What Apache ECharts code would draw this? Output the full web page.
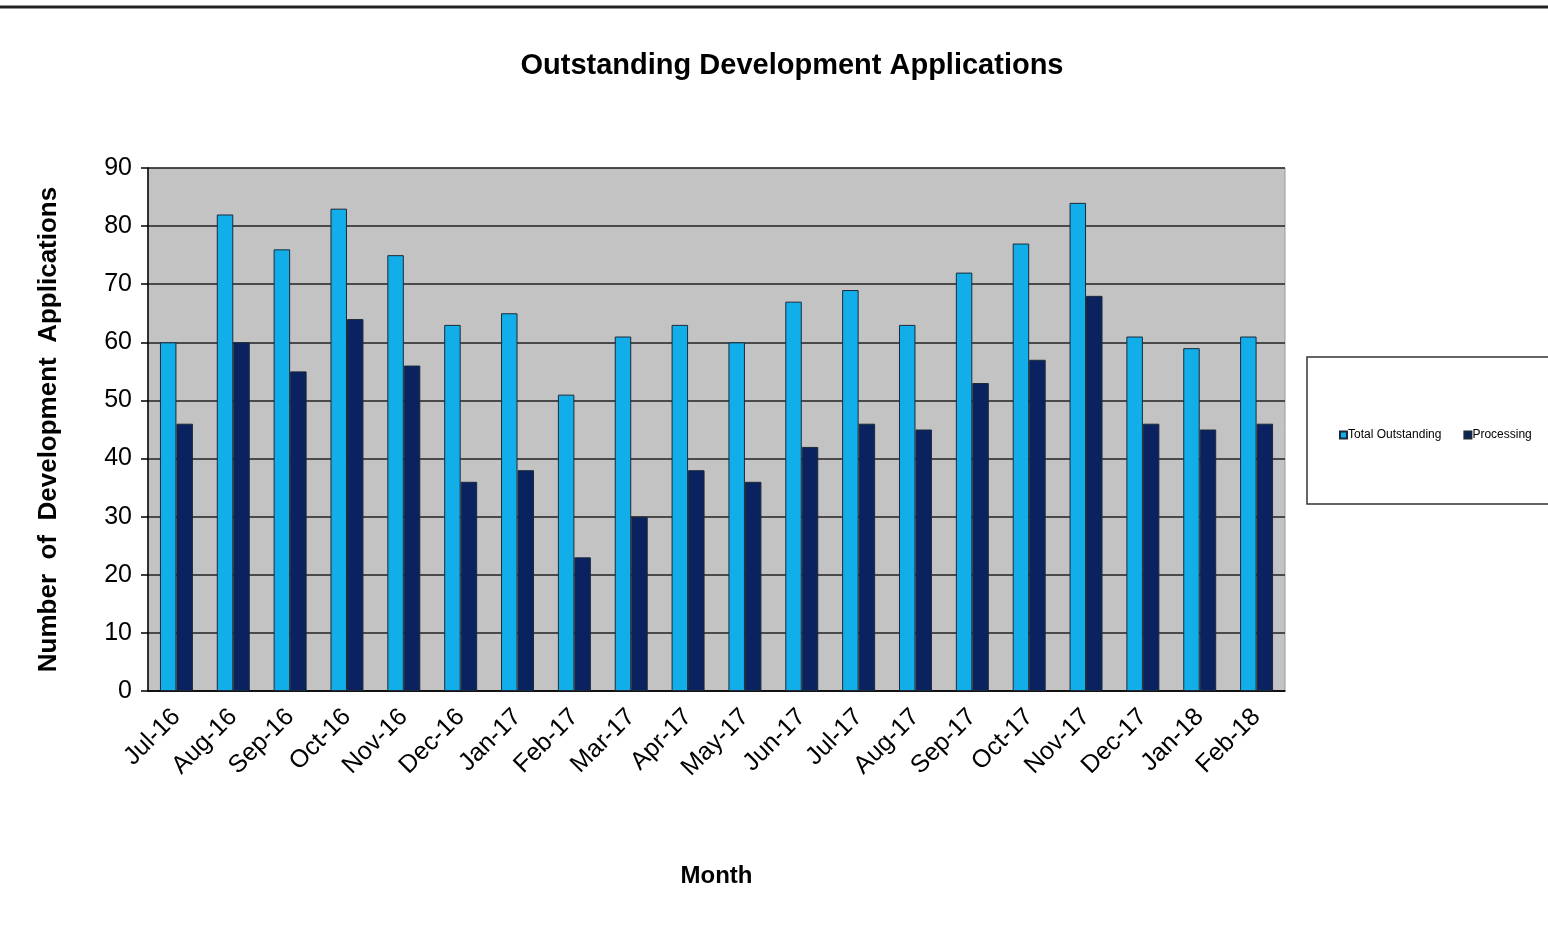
<!DOCTYPE html>
<html><head><meta charset="utf-8">
<script src="https://cdn.jsdelivr.net/npm/echarts@6/dist/echarts.min.js"></script>
<style>html,body{margin:0;padding:0;background:#fff}#c{width:1548px;height:931px}</style>
</head><body><div id="c"></div>
<script>
const months = ['Jul-16','Aug-16','Sep-16','Oct-16','Nov-16','Dec-16','Jan-17','Feb-17','Mar-17','Apr-17','May-17','Jun-17','Jul-17','Aug-17','Sep-17','Oct-17','Nov-17','Dec-17','Jan-18','Feb-18'];
const totalOutstanding = [60,82,76,83,75,63,65,51,61,63,60,67,69,63,72,77,84,61,59,61];
const processing = [46,60,55,64,56,36,38,23,30,38,36,42,46,45,53,57,68,46,45,46];
const yTicks = [0,10,20,30,40,50,60,70,80,90];

const chart = echarts.init(document.getElementById('c'));
const ff = 'Liberation Sans, Arial, sans-serif';
chart.setOption({
  animation:false,
  backgroundColor:'#fff',
  title:{text:'Outstanding Development Applications',left:787,textAlign:'center',top:46,
    textStyle:{fontFamily:ff,fontWeight:'bold',fontSize:29,color:'#000'}},
  graphic:[
    {type:'line',shape:{x1:0,y1:7,x2:1548,y2:7},style:{stroke:'#222',lineWidth:3}},
    {type:'rect',shape:{x:1307,y:357,width:260,height:147},style:{fill:'#fff',stroke:'#333',lineWidth:1.5},z:-1}
  ],
  legend:{left:1334,top:424,itemWidth:7,itemHeight:7,itemGap:22,icon:'rect',
    textStyle:{fontFamily:ff,fontSize:12,color:'#000',padding:[0,0,0,-4]},
    data:['Total Outstanding','Processing']},
  grid:{left:148,right:263,top:168,bottom:240,show:true,backgroundColor:'#c3c3c3',borderColor:'#999',borderWidth:1},
  xAxis:{type:'category',data:months,
    name:'Month',nameLocation:'middle',nameGap:173,
    nameTextStyle:{fontFamily:ff,fontWeight:'bold',fontSize:24,color:'#000'},
    axisLine:{lineStyle:{color:'#000',width:1.5}},
    axisTick:{interval:1,length:8,lineStyle:{color:'#000',width:1.5}},
    axisLabel:{rotate:45,fontFamily:ff,fontSize:25,color:'#000',margin:22,interval:0}},
  yAxis:{type:'value',min:0,max:90,interval:10,
    name:'Number  of  Development  Applications',nameLocation:'middle',nameGap:86,
    nameTextStyle:{fontFamily:ff,fontWeight:'bold',fontSize:26,color:'#000'},
    axisLine:{show:true,lineStyle:{color:'#000',width:1.5}},
    axisTick:{show:true,length:7,lineStyle:{color:'#000',width:1.5}},
    axisLabel:{fontFamily:ff,fontSize:25,color:'#000',margin:16,formatter:v=>yTicks.includes(v)?String(v):''},
    splitLine:{lineStyle:{color:'#222',width:1.5}}},
  series:[
    {name:'Total Outstanding',type:'bar',data:totalOutstanding,barGap:'0%',barCategoryGap:'42%',
      itemStyle:{color:'#12aee9',borderColor:'#1b2a3a',borderWidth:1}},
    {name:'Processing',type:'bar',data:processing,
      itemStyle:{color:'#0a2260',borderColor:'#1b2a3a',borderWidth:1}}
  ]
});
</script></body></html>
